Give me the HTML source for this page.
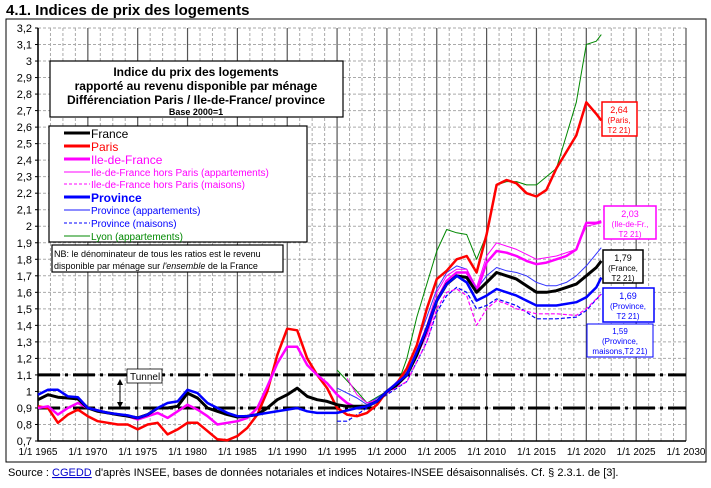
<!DOCTYPE html>
<html><head><meta charset="utf-8"><style>
body{margin:0;background:#fff;font-family:"Liberation Sans",Arial,sans-serif;}
svg text{font-family:"Liberation Sans",Arial,sans-serif;}
</style></head><body>
<svg id="c" width="711" height="483" xmlns="http://www.w3.org/2000/svg">
<text x="6" y="15" font-size="15" font-weight="bold">4.1. Indices de prix des logements</text>
<rect x="6" y="19" width="700" height="443" fill="none" stroke="#000" stroke-width="1"/>
<g id="grid"></g>
<g id="yt"></g>
<g id="xt"></g>
<g id="series"></g>
<g>
<line x1="120" y1="381" x2="120" y2="406" stroke="#000"/>
<path d="M117,385 L120,379 L123,385 Z M117,402 L120,408 L123,402 Z" fill="#000"/>
<rect x="127" y="369" width="35" height="14" fill="#fff" stroke="#000" stroke-width="0.8"/>
<text x="130" y="380" font-size="10">Tunnel</text>
</g>
<g>
<rect x="50" y="61" width="293" height="56" fill="#fff" stroke="#000" stroke-width="1.2"/>
<text x="196" y="76" font-size="12" font-weight="bold" text-anchor="middle">Indice du prix des logements</text>
<text x="196" y="90" font-size="12" font-weight="bold" text-anchor="middle">rapporté au revenu disponible par ménage</text>
<text x="196" y="104" font-size="12" font-weight="bold" text-anchor="middle">Différenciation Paris / Ile-de-France/ province</text>
<text x="196" y="115" font-size="9" font-weight="bold" text-anchor="middle">Base 2000=1</text>
</g>
<g>
<rect x="49" y="126" width="258" height="116" fill="#fff" stroke="#000" stroke-width="1.2"/>
<line x1="64" y1="133" x2="90" y2="133" stroke="#000" stroke-width="3"/><text x="91" y="138" font-size="12" fill="#000">France</text>
<line x1="64" y1="146" x2="90" y2="146" stroke="#f00" stroke-width="3"/><text x="91" y="151" font-size="12" fill="#f00">Paris</text>
<line x1="64" y1="159" x2="90" y2="159" stroke="#f0f" stroke-width="3"/><text x="91" y="164" font-size="12" fill="#f0f">Ile-de-France</text>
<line x1="64" y1="172" x2="90" y2="172" stroke="#f0f" stroke-width="1"/><text x="91" y="176" font-size="10" fill="#f0f">Ile-de-France hors Paris (appartements)</text>
<line x1="64" y1="184" x2="90" y2="184" stroke="#f0f" stroke-width="1" stroke-dasharray="3,2"/><text x="91" y="188" font-size="10" fill="#f0f">Ile-de-France hors Paris (maisons)</text>
<line x1="64" y1="197" x2="90" y2="197" stroke="#00f" stroke-width="3"/><text x="91" y="202" font-size="12" fill="#00f" font-weight="bold">Province</text>
<line x1="64" y1="210" x2="90" y2="210" stroke="#66f" stroke-width="1.5"/><text x="91" y="214" font-size="10" fill="#00f">Province (appartements)</text>
<line x1="64" y1="223" x2="90" y2="223" stroke="#00f" stroke-width="1" stroke-dasharray="3,2"/><text x="91" y="227" font-size="10" fill="#00f">Province (maisons)</text>
<line x1="64" y1="236" x2="90" y2="236" stroke="#080" stroke-width="1"/><text x="91" y="240" font-size="10" fill="#080">Lyon (appartements)</text>
</g>
<g>
<rect x="52" y="245" width="231" height="27" fill="#fff" stroke="#000" stroke-width="1.2"/>
<text x="54" y="257" font-size="9">NB: le dénominateur de tous les ratios est le revenu</text>
<text x="54" y="269" font-size="9">disponible par ménage sur <tspan font-style="italic">l'ensemble</tspan> de la France</text>
</g>
<g><rect x="602" y="102" width="35" height="34" fill="#fff" stroke="#f00" stroke-width="1.5"/>
<text x="619" y="113" font-size="9" fill="#f00" text-anchor="middle">2,64</text><text x="619" y="123" font-size="8" fill="#f00" text-anchor="middle">(Paris,</text><text x="619" y="133" font-size="8" fill="#f00" text-anchor="middle">T2 21)</text></g>
<g><rect x="604" y="206" width="52" height="33" fill="#fff" stroke="#f0f" stroke-width="1.5"/>
<text x="630" y="217" font-size="9" fill="#f0f" text-anchor="middle">2,03</text><text x="630" y="227" font-size="8" fill="#f0f" text-anchor="middle">(Ile-de-Fr.,</text><text x="630" y="237" font-size="8" fill="#f0f" text-anchor="middle">T2 21)</text></g>
<g><rect x="603" y="250" width="40" height="33" fill="#fff" stroke="#000" stroke-width="1.5"/>
<text x="623" y="261" font-size="9" text-anchor="middle">1,79</text><text x="623" y="271" font-size="8" text-anchor="middle">(France,</text><text x="623" y="281" font-size="8" text-anchor="middle">T2 21)</text></g>
<g><rect x="603" y="288" width="51" height="34" fill="#fff" stroke="#00f" stroke-width="1.5"/>
<text x="628" y="299" font-size="9" fill="#00f" text-anchor="middle">1,69</text><text x="628" y="309" font-size="8" fill="#00f" text-anchor="middle">(Province,</text><text x="628" y="319" font-size="8" fill="#00f" text-anchor="middle">T2 21)</text></g>
<g><rect x="587" y="324" width="66" height="33" fill="#fff" stroke="#00f" stroke-width="1"/>
<text x="620" y="334" font-size="8" fill="#00f" text-anchor="middle">1,59</text><text x="620" y="344" font-size="8" fill="#00f" text-anchor="middle">(Province,</text><text x="620" y="354" font-size="8" fill="#00f" text-anchor="middle">maisons,T2 21)</text></g>
<text x="8" y="476" font-size="11">Source : <tspan fill="#00c" text-decoration="underline">CGEDD</tspan> d'après INSEE, bases de données notariales et indices Notaires-INSEE désaisonnalisés.  Cf. § 2.3.1. de [3].</text>
</svg>
<script>
const yearsFrance=[1965,1966,1967,1968,1969,1970,1971,1972,1973,1974,1975,1976,1977,1978,1979,1980,1981,1982,1983,1984,1985,1986,1987,1988,1989,1990,1991,1992,1993,1994,1995,1996,1997,1998,1999,2000,2001,2002,2003,2004,2005,2006,2007,2008,2009,2010,2011,2012,2013,2014,2015,2016,2017,2018,2019,2020,2021,2021.5];
const valFrance=[0.95,0.98,0.965,0.96,0.955,0.9,0.88,0.87,0.86,0.85,0.84,0.86,0.9,0.9,0.91,0.99,0.96,0.9,0.88,0.86,0.845,0.85,0.86,0.9,0.95,0.98,1.02,0.97,0.95,0.94,0.92,0.91,0.91,0.91,0.94,1.0,1.04,1.1,1.22,1.38,1.55,1.65,1.7,1.69,1.6,1.66,1.72,1.7,1.68,1.64,1.6,1.6,1.61,1.63,1.65,1.7,1.75,1.79];
const yearsProv=[1965,1966,1967,1968,1969,1970,1972,1974,1975,1976,1977,1978,1979,1980,1981,1982,1983,1984,1985,1986,1988,1990,1991,1992,1993,1995,1997,1998,1999,2000,2002,2004,2005,2006,2007,2008,2009,2010,2011,2012,2013,2014,2015,2017,2019,2020,2021,2021.5];
const valProv=[0.98,1.01,1.01,0.97,0.965,0.9,0.87,0.855,0.84,0.86,0.9,0.93,0.94,1.01,0.99,0.93,0.9,0.87,0.85,0.85,0.87,0.89,0.9,0.88,0.87,0.87,0.9,0.91,0.94,1.0,1.1,1.38,1.55,1.65,1.7,1.66,1.55,1.58,1.62,1.6,1.58,1.55,1.52,1.52,1.54,1.57,1.63,1.69];
const yearsParis=[1965,1966,1967,1968,1969,1970,1971,1972,1973,1974,1975,1976,1977,1978,1979,1980,1981,1982,1983,1984,1985,1986,1987,1988,1989,1990,1991,1992,1993,1994,1995,1996,1997,1998,1999,2000,2001,2002,2003,2004,2005,2006,2007,2008,2009,2010,2011,2012,2013,2014,2015,2016,2017,2018,2019,2020,2021,2021.5];
const valParis=[0.91,0.9,0.81,0.86,0.89,0.85,0.82,0.81,0.8,0.8,0.77,0.8,0.81,0.74,0.77,0.81,0.81,0.76,0.71,0.705,0.73,0.78,0.86,1.0,1.22,1.38,1.37,1.2,1.1,1.02,0.9,0.86,0.85,0.87,0.92,1.0,1.05,1.14,1.28,1.5,1.68,1.73,1.8,1.82,1.72,1.95,2.25,2.28,2.26,2.2,2.18,2.22,2.35,2.45,2.55,2.75,2.68,2.64];
const yearsIdf=[1965,1966,1967,1968,1969,1970,1972,1974,1975,1976,1977,1978,1979,1980,1981,1982,1983,1984,1985,1986,1987,1988,1989,1990,1991,1992,1993,1994,1995,1996,1997,1998,1999,2000,2002,2004,2005,2006,2007,2008,2009,2010,2011,2012,2013,2014,2015,2016,2017,2018,2019,2020,2021,2021.5];
const valIdf=[0.9,0.91,0.86,0.9,0.93,0.9,0.87,0.85,0.83,0.85,0.87,0.84,0.88,0.92,0.89,0.85,0.8,0.81,0.82,0.84,0.9,1.03,1.17,1.27,1.27,1.16,1.1,1.05,0.98,0.93,0.9,0.91,0.94,1.0,1.1,1.35,1.55,1.67,1.72,1.72,1.6,1.78,1.85,1.84,1.82,1.79,1.77,1.78,1.8,1.82,1.86,2.02,2.02,2.03];
const yearsIdfAppt=[1996,1997,1998,1999,2000,2002,2004,2005,2006,2007,2008,2009,2010,2011,2012,2013,2014,2015,2017,2019,2020,2021.5];
const valIdfAppt=[1.08,0.98,0.93,0.95,1.0,1.1,1.4,1.6,1.7,1.74,1.74,1.63,1.82,1.9,1.88,1.86,1.83,1.8,1.82,1.86,2.0,2.02];
const yearsIdfMais=[2000,2002,2004,2005,2006,2007,2008,2009,2010,2011,2012,2013,2015,2017,2019,2020,2021.5];
const valIdfMais=[0.99,1.06,1.3,1.5,1.6,1.62,1.58,1.4,1.5,1.55,1.53,1.5,1.47,1.47,1.46,1.5,1.59];
const yearsProvAppt=[1995,1997,1998,2000,2002,2004,2005,2006,2007,2008,2009,2010,2011,2012,2013,2014,2015,2016,2017,2018,2019,2020,2021.5];
const valProvAppt=[1.02,0.96,0.92,1.0,1.12,1.45,1.62,1.72,1.76,1.74,1.62,1.7,1.75,1.73,1.72,1.7,1.66,1.64,1.64,1.66,1.7,1.76,1.87];
const yearsProvMais=[1995,1996,1997,1998,2000,2002,2004,2005,2006,2007,2008,2009,2010,2011,2012,2013,2015,2017,2019,2020,2021.5];
const valProvMais=[0.82,0.82,0.86,0.9,0.98,1.06,1.3,1.48,1.58,1.63,1.6,1.5,1.52,1.56,1.54,1.52,1.44,1.44,1.45,1.49,1.59];
const yearsLyon=[1995,1997,1998,2000,2001,2002,2003,2004,2005,2006,2007,2008,2009,2010,2011,2012,2013,2014,2015,2016,2017,2018,2019,2020,2021,2021.5];
const valLyon=[1.13,1.0,0.93,1.0,1.03,1.2,1.45,1.65,1.85,1.98,1.96,1.95,1.8,1.95,2.25,2.27,2.27,2.25,2.25,2.3,2.35,2.55,2.75,3.1,3.12,3.16];
const yTicks=[0.7,0.8,0.9,1,1.1,1.2,1.3,1.4,1.5,1.6,1.7,1.8,1.9,2,2.1,2.2,2.3,2.4,2.5,2.6,2.7,2.8,2.9,3,3.1,3.2];
const xTicks=[1965,1970,1975,1980,1985,1990,1995,2000,2005,2010,2015,2020,2025,2030];
const tunnel=[0.9,1.1];

const X0=38,X1=686,Y0=441,Y1=28;
const sx=v=>X0+(v-1965)/(2030-1965)*(X1-X0);
const sy=v=>Y0-(v-0.7)/(3.2-0.7)*(Y0-Y1);
const NS="http://www.w3.org/2000/svg";
function mk(tag,attrs,parent){const e=document.createElementNS(NS,tag);for(const k in attrs)e.setAttribute(k,attrs[k]);parent.appendChild(e);return e;}
const grid=document.getElementById('grid'),yt=document.getElementById('yt'),xt=document.getElementById('xt'),ser=document.getElementById('series');
for(let y=1965;y<2030;y+=1.25){if((y-1965)%5===0)continue;const l=mk('line',{x1:sx(y),x2:sx(y),y1:Y1,y2:Y0,stroke:'#aaa','stroke-width':1,'stroke-dasharray':'3,2'},grid);

}
yTicks.forEach(v=>{const l=mk('line',{x1:X0,x2:X1,y1:sy(v),y2:sy(v),stroke:'#aaa','stroke-width':1,'stroke-dasharray':'3,2'},grid);


const t=mk('text',{x:X0-6,y:sy(v)+4,'font-size':11,'text-anchor':'end'},yt);t.textContent=String(v).replace('.',',');


const tk=mk('line',{x1:X0-3,x2:X0,y1:sy(v),y2:sy(v),stroke:'#000'},yt);

});
xTicks.forEach(v=>{const l=mk('line',{x1:sx(v),x2:sx(v),y1:Y1,y2:Y0,stroke:'#555','stroke-width':1.2},grid);


const t=mk('text',{x:sx(v),y:Y0+14,'font-size':10,'text-anchor':'middle'},xt);t.textContent='1/1 '+v;

});
const ax=mk('path',{d:`M${X0},${Y1} L${X0},${Y0} L${X1},${Y0}`,fill:'none',stroke:'#000','stroke-width':1.5},xt);


tunnel.forEach(v=>{const l=mk('line',{x1:X0,x2:X1,y1:sy(v),y2:sy(v),stroke:'#000','stroke-width':3,'stroke-dasharray':'22,5,3,5'},ser);

});
function line(xs,vs,color,w,dash,name){const d=xs.map((x,i)=>(i?'L':'M')+sx(x).toFixed(1)+','+sy(vs[i]).toFixed(1)).join(' ');
const p=mk('path',{d:d,fill:'none',stroke:color,'stroke-width':w,'stroke-linejoin':'round'},ser);if(dash)p.setAttribute('stroke-dasharray',dash);

}
line(yearsLyon,valLyon,'#080',1,null,'series-lyon');
line(yearsProvAppt,valProvAppt,'#33f',1,null,'series-province-appt');
line(yearsProvMais,valProvMais,'#00f',1.2,'4,2','series-province-maisons');
line(yearsIdfAppt,valIdfAppt,'#f0f',1,null,'series-idf-appt');
line(yearsIdfMais,valIdfMais,'#f0f',1.2,'4,2','series-idf-maisons');
line(yearsParis,valParis,'#f00',2.5,null,'series-paris');
line(yearsIdf,valIdf,'#f0f',2.5,null,'series-idf');
line(yearsFrance,valFrance,'#000',3,null,'series-france');
line(yearsProv,valProv,'#00f',2.5,null,'series-province');
</script>
</body></html>
